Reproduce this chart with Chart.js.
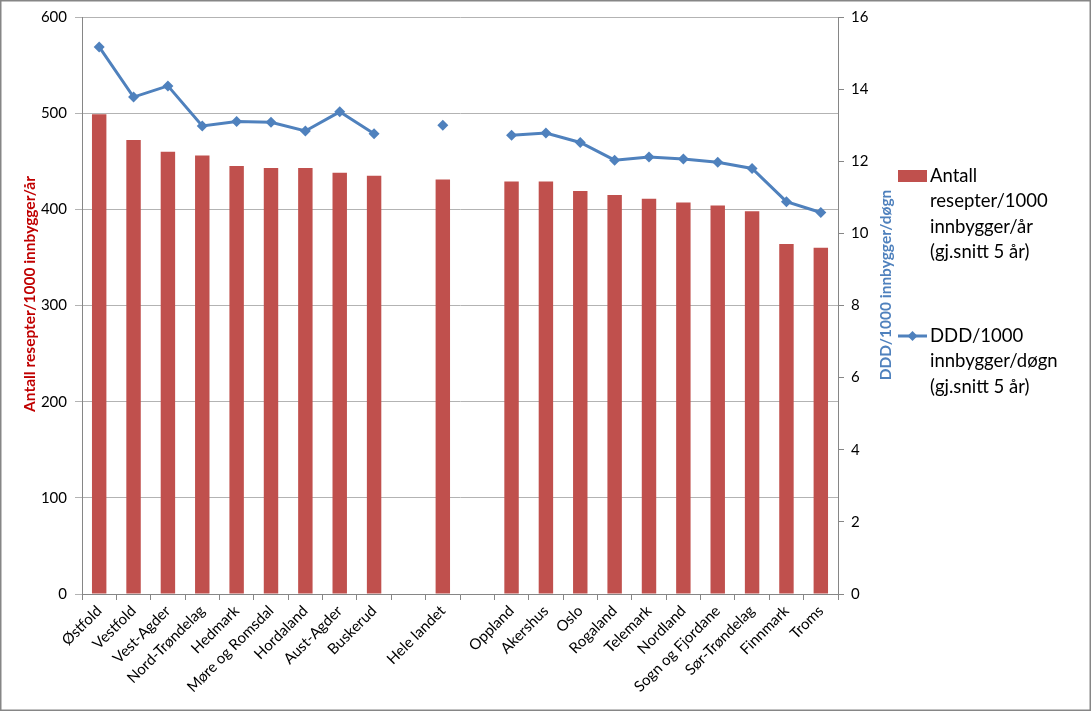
<!DOCTYPE html>
<html>
<head>
<meta charset="utf-8">
<script src="https://cdn.jsdelivr.net/npm/chart.js@4"></script>
<style>
  html, body { margin: 0; padding: 0; background: #fff; }
</style>
</head>
<body>
<canvas id="chart" width="1091" height="711"></canvas>
<script>
// kategorier (tomme plasser rundt "Hele landet")
const categories = ['Østfold', 'Vestfold', 'Vest-Agder', 'Nord-Trøndelag', 'Hedmark', 'Møre og Romsdal',
  'Hordaland', 'Aust-Agder', 'Buskerud', '', 'Hele landet', '', 'Oppland', 'Akershus', 'Oslo',
  'Rogaland', 'Telemark', 'Nordland', 'Sogn og Fjordane', 'Sør-Trøndelag', 'Finnmark', 'Troms'];

// antall resepter/1000 innbygger/år
const resepter = [499, 472, 460, 456, 445, 443, 443, 438, 435, null, 431, null,
  429, 429, 419, 415, 411, 407, 404, 398, 364, 360];

// DDD/1000 innbygger/døgn
const ddd = [15.17, 13.78, 14.09, 12.98, 13.1, 13.08, 12.84, 13.37, 12.76, null, 13.0, null,
  12.72, 12.78, 12.52, 12.03, 12.12, 12.06, 11.97, 11.8, 10.88, 10.58];

const leftTitle = 'Antall resepter/1000 innbygger/år';
const rightTitle = 'DDD/1000 innbygger/døgn';
const legendBar = ['Antall', 'resepter/1000', 'innbygger/år', '(gj.snitt 5 år)'];
const legendLine = ['DDD/1000', 'innbygger/døgn', '(gj.snitt 5 år)'];

const RED = '#C0504D';
const BLUE = '#4F81BD';
const FONT = 'Lato';

// titler, legende og ramme tegnes her
const extras = {
  id: 'extras',
  afterDraw(chart) {
    const ctx = chart.ctx;
    ctx.save();
    ctx.textAlign = 'center';
    ctx.textBaseline = 'middle';
    ctx.font = 'bold 15.5px ' + FONT;

    ctx.save();
    ctx.fillStyle = '#C00000';
    ctx.translate(30, 294);
    ctx.rotate(-Math.PI / 2);
    ctx.fillText(leftTitle, 0, 0);
    ctx.restore();

    ctx.save();
    ctx.fillStyle = BLUE;
    ctx.translate(886, 285);
    ctx.rotate(-Math.PI / 2);
    ctx.fillText(rightTitle, 0, 0);
    ctx.restore();

    // legende
    ctx.textAlign = 'left';
    ctx.font = '18.5px ' + FONT;
    ctx.fillStyle = RED;
    ctx.fillRect(898, 170, 29, 12);
    ctx.fillStyle = '#000';
    legendBar.forEach((t, i) => ctx.fillText(t, 930, 176 + i * 25.5));

    ctx.strokeStyle = BLUE;
    ctx.lineWidth = 3;
    ctx.beginPath();
    ctx.moveTo(898, 336);
    ctx.lineTo(927, 336);
    ctx.stroke();
    ctx.fillStyle = BLUE;
    ctx.beginPath();
    ctx.moveTo(912.5, 331);
    ctx.lineTo(917.5, 336);
    ctx.lineTo(912.5, 341);
    ctx.lineTo(907.5, 336);
    ctx.closePath();
    ctx.fill();
    ctx.fillStyle = '#000';
    legendLine.forEach((t, i) => ctx.fillText(t, 930, 336 + i * 25.5));

    // ramme
    ctx.strokeStyle = '#868686';
    ctx.lineWidth = 1.5;
    ctx.strokeRect(0.75, 0.75, 1089.5, 709.5);
    ctx.restore();
  }
};

new Chart(document.getElementById('chart'), {
  data: {
    labels: categories,
    datasets: [
      {
        type: 'line',
        label: 'DDD/1000 innbygger/døgn (gj.snitt 5 år)',
        data: ddd,
        yAxisID: 'y1',
        borderColor: BLUE,
        backgroundColor: BLUE,
        borderWidth: 3,
        pointStyle: 'rectRot',
        pointRadius: 5.5,
        pointBorderWidth: 0,
        spanGaps: false,
        tension: 0,
        order: 0,
      },
      {
        type: 'bar',
        label: 'Antall resepter/1000 innbygger/år (gj.snitt 5 år)',
        data: resepter,
        yAxisID: 'y',
        backgroundColor: RED,
        barPercentage: 0.42,
        categoryPercentage: 1,
        order: 1,
      },
    ],
  },
  options: {
    responsive: false,
    animation: false,
    layout: { padding: { left: 0, right: 196, top: 17, bottom: 0 } },
    plugins: { legend: { display: false }, tooltip: { enabled: false } },
    scales: {
      x: {
        offset: true,
        grid: { offset: true, drawOnChartArea: false, tickLength: 6, color: '#868686' },
        border: { color: '#868686' },
        ticks: {
          autoSkip: false, maxRotation: 45, minRotation: 45, padding: 2,
          color: '#000', font: { family: FONT, size: 15 },
        },
        afterFit(scale) { scale.height = 117; },
      },
      y: {
        position: 'left',
        min: 0, max: 600,
        ticks: { stepSize: 100, padding: 8, color: '#000', font: { family: FONT, size: 15 } },
        grid: { color: '#B3B3B3', tickLength: 7 },
        border: { color: '#868686' },
        afterFit(scale) { scale.width = 82; },
      },
      y1: {
        position: 'right',
        min: 0, max: 16,
        ticks: { stepSize: 2, padding: 7, color: '#000', font: { family: FONT, size: 15 } },
        grid: { drawOnChartArea: false, color: '#868686', tickLength: 6 },
        border: { color: '#868686' },
        afterFit(scale) { scale.width = 57; },
      },
    },
  },
  plugins: [extras],
});
</script>
</body>
</html>
